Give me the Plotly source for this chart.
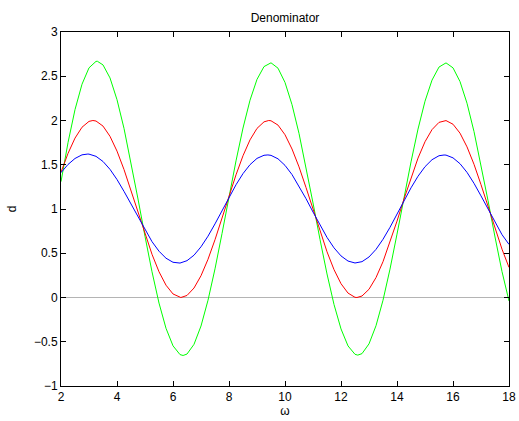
import plotly.graph_objects as go

# Values
omega_red = [2.0, 2.25, 2.5, 2.75, 3.0, 3.14, 3.25, 3.5, 3.75, 4.0, 4.25, 4.5, 4.75, 5.0, 5.25, 5.5, 5.75, 6.0,
             6.25, 6.28, 6.5, 6.75, 7.0, 7.25, 7.5, 7.75, 8.0, 8.25, 8.5, 8.75, 9.0, 9.25, 9.42, 9.5, 9.75, 10.0,
             10.25, 10.5, 10.75, 11.0, 11.25, 11.5, 11.75, 12.0, 12.25, 12.5, 12.57, 12.75, 13.0, 13.25, 13.5,
             13.75, 14.0, 14.25, 14.5, 14.75, 15.0, 15.25, 15.5, 15.71, 15.75, 16.0, 16.25, 16.5, 16.75, 17.0,
             17.25, 17.5, 17.75, 18.0]
d_red = [1.416, 1.628, 1.801, 1.924, 1.990, 2.000, 1.994, 1.937, 1.821, 1.654, 1.446, 1.211, 0.962, 0.716, 0.488,
         0.291, 0.139, 0.040, 0.001, 0.000, 0.023, 0.107, 0.246, 0.432, 0.653, 0.896, 1.146, 1.386, 1.602, 1.781,
         1.911, 1.985, 2.000, 1.997, 1.948, 1.839, 1.678, 1.476, 1.243, 0.996, 0.748, 0.517, 0.315, 0.156, 0.050,
         0.002, 0.000, 0.017, 0.093, 0.225, 0.405, 0.622, 0.863, 1.113, 1.355, 1.575, 1.760, 1.897, 1.979, 2.000,
         1.999, 1.958, 1.857, 1.702, 1.505, 1.275, 1.029, 0.781, 0.546, 0.340]

omega_blue = [2.0, 2.25, 2.5, 2.75, 2.96, 3.0, 3.25, 3.5, 3.75, 4.0, 4.25, 4.5, 4.75, 5.0, 5.25, 5.5, 5.75, 6.0,
              6.18, 6.25, 6.5, 6.75, 7.0, 7.25, 7.5, 7.75, 8.0, 8.25, 8.5, 8.75, 9.0, 9.25, 9.39, 9.5, 9.75, 10.0,
              10.25, 10.5, 10.75, 11.0, 11.25, 11.5, 11.75, 12.0, 12.25, 12.5, 12.75, 13.0, 13.25, 13.5, 13.75,
              14.0, 14.25, 14.5, 14.75, 15.0, 15.25, 15.5, 15.68, 15.75, 16.0, 16.25, 16.5, 16.75, 17.0, 17.25,
              17.5, 17.75, 18.0]
d_blue = [1.411, 1.503, 1.571, 1.612, 1.621, 1.620, 1.595, 1.537, 1.448, 1.333, 1.199, 1.054, 0.904, 0.761, 0.631,
          0.523, 0.444, 0.398, 0.387, 0.389, 0.416, 0.478, 0.573, 0.693, 0.832, 0.981, 1.132, 1.274, 1.400, 1.501,
          1.572, 1.607, 1.611, 1.606, 1.567, 1.493, 1.389, 1.261, 1.117, 0.966, 0.817, 0.679, 0.561, 0.470, 0.412,
          0.390, 0.405, 0.458, 0.544, 0.658, 0.793, 0.941, 1.093, 1.239, 1.370, 1.478, 1.557, 1.602, 1.610, 1.609,
          1.578, 1.512, 1.414, 1.290, 1.148, 0.998, 0.847, 0.710, 0.600]

omega_green = [2.0, 2.25, 2.5, 2.75, 3.0, 3.25, 3.3, 3.5, 3.75, 4.0, 4.25, 4.5, 4.75, 5.0, 5.25, 5.5, 5.75, 6.0,
               6.25, 6.36, 6.5, 6.75, 7.0, 7.25, 7.5, 7.75, 8.0, 8.25, 8.5, 8.75, 9.0, 9.25, 9.5, 9.75, 10.0,
               10.25, 10.5, 10.75, 11.0, 11.25, 11.5, 11.75, 12.0, 12.25, 12.5, 12.6, 12.75, 13.0, 13.25, 13.5,
               13.75, 14.0, 14.25, 14.5, 14.75, 15.0, 15.25, 15.5, 15.75, 16.0, 16.25, 16.5, 16.75, 17.0, 17.25,
               17.5, 17.75, 18.0]
d_green = [1.309, 1.750, 2.123, 2.410, 2.595, 2.668, 2.669, 2.628, 2.481, 2.235, 1.911, 1.528, 1.113, 0.691, 0.291,
           -0.063, -0.348, -0.546, -0.645, -0.655, -0.639, -0.529, -0.322, -0.031, 0.324, 0.722, 1.137, 1.544,
           1.915, 2.229, 2.465, 2.609, 2.652, 2.591, 2.430, 2.179, 1.854, 1.476, 1.068, 0.656, 0.266, -0.079,
           -0.355, -0.547, -0.642, -0.651, -0.634, -0.524, -0.319, -0.031, 0.321, 0.716, 1.128, 1.532, 1.903,
           2.218, 2.456, 2.604, 2.651, 2.595, 2.440, 2.195, 1.875, 1.501, 1.096, 0.684, 0.293, -0.040]

x_ticks = [2, 4, 6, 8, 10, 12, 14, 16, 18]
y_ticks = [-1, -0.5, 0, 0.5, 1, 1.5, 2, 2.5, 3]

fig = go.Figure()
fig.add_hline(y=0, line=dict(color="#b4b4b4", width=1), layer="below")
fig.add_trace(go.Scatter(x=omega_green, y=d_green, mode="lines",
                         line=dict(color="#00ff00", width=1), showlegend=False))
fig.add_trace(go.Scatter(x=omega_red, y=d_red, mode="lines",
                         line=dict(color="#ff0000", width=1), showlegend=False))
fig.add_trace(go.Scatter(x=omega_blue, y=d_blue, mode="lines",
                         line=dict(color="#0000ff", width=1), showlegend=False))

axis_common = dict(showline=True, linecolor="black", linewidth=1, mirror="ticks", ticks="inside",
                   ticklen=5, tickcolor="black", showgrid=False, zeroline=False, automargin=False,
                   tickfont=dict(family="Liberation Sans, Arial, sans-serif", size=12, color="black"))

FIG_W, FIG_H = 519, 421
fig.update_layout(
    width=FIG_W, height=FIG_H,
    margin=dict(l=61, r=10, t=32, b=35),
    paper_bgcolor="white", plot_bgcolor="white",
    font=dict(family="Liberation Sans, Arial, sans-serif", size=12, color="black"),
    title=dict(text="Denominator", x=0.5, xanchor="center", xref="paper",
               yref="container", y=1 - 18 / FIG_H, yanchor="middle",
               font=dict(size=12, color="black")),
    xaxis=dict(range=[2, 18], tickvals=x_ticks, ticktext=[str(v) for v in x_ticks],
               title=dict(text="ω", standoff=2, font=dict(size=12)), **axis_common),
    yaxis=dict(range=[-1, 3], tickvals=y_ticks,
               ticktext=[("\u2212" if v < 0 else "") + f"{abs(v):g}" for v in y_ticks],
               title=dict(text="d", standoff=14, font=dict(size=12)), **axis_common),
)

# remove the page's default body margin so the figure sits at the window's top-left corner
fig.write_html("out.html", config={"displayModeBar": False},
               post_script="document.body.style.margin='0';document.body.style.overflow='hidden';")
